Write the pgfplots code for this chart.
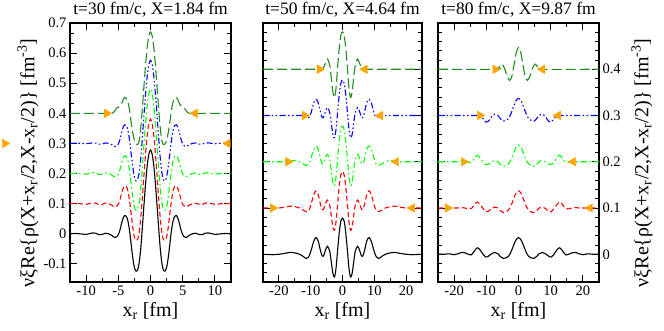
\documentclass[border=0pt]{standalone}
\usepackage{fontspec}
\setmainfont{Liberation Serif}
\usepackage{pgfplots}
\usepackage{pgfplotstable}
\pgfplotsset{compat=1.18}

\definecolor{dgreen}{RGB}{34,139,34}
\definecolor{lgreen}{RGB}{0,255,0}
\definecolor{morange}{RGB}{255,165,0}

% t=30 fm/c : x, then curves shifted by 0, 0.1, 0.2, 0.3, 0.4
\pgfplotstableread{
x k0 k1 k2 k3 k4
-12.5 0 0.1 0.2 0.3 0.4
-11.5 0.001 0.101 0.201 0.301 0.4
-10.5 -0.001 0.099 0.199 0.3 0.4
-10 -0.002 0.098 0.198 0.299 0.4
-9 0.003 0.103 0.203 0.302 0.4
-8.5 0.002 0.102 0.202 0.301 0.4
-8 -0.003 0.097 0.197 0.298 0.4
-7.5 -0.002 0.098 0.198 0.298 0.4
-7 0.002 0.102 0.202 0.302 0.4
-6.5 0 0.1 0.2 0.3 0.4
-6 -0.005 0.095 0.195 0.296 0.4
-5.75 -0.01 0.091 0.191 0.292 0.403
-5.5 -0.012 0.09 0.19 0.29 0.41
-5.25 -0.01 0.092 0.192 0.292 0.418
-5 -0.003 0.098 0.198 0.298 0.42
-4.75 0.012 0.112 0.212 0.313 0.425
-4.5 0.034 0.134 0.234 0.335 0.432
-4.25 0.052 0.151 0.252 0.354 0.445
-4 0.061 0.159 0.259 0.362 0.453
-3.75 0.058 0.157 0.257 0.359 0.45
-3.5 0.042 0.142 0.242 0.343 0.438
-3.25 0.01 0.11 0.21 0.31 0.41
-3 -0.035 0.066 0.166 0.266 0.37
-2.75 -0.08 0.021 0.121 0.222 0.335
-2.5 -0.112 -0.011 0.089 0.189 0.31
-2.25 -0.124 -0.022 0.078 0.176 0.298
-2 -0.12 -0.019 0.081 0.18 0.296
-1.75 -0.095 0.005 0.105 0.205 0.31
-1.5 -0.045 0.055 0.155 0.255 0.355
-1.25 0.025 0.125 0.225 0.324 0.42
-1 0.1 0.2 0.3 0.398 0.495
-0.75 0.17 0.27 0.37 0.468 0.565
-0.5 0.228 0.329 0.429 0.526 0.622
-0.25 0.265 0.367 0.467 0.563 0.658
0 0.278 0.381 0.481 0.576 0.67
0.25 0.265 0.367 0.467 0.563 0.658
0.5 0.228 0.329 0.429 0.526 0.622
0.75 0.17 0.27 0.37 0.468 0.565
1 0.1 0.2 0.3 0.398 0.495
1.25 0.025 0.125 0.225 0.324 0.42
1.5 -0.045 0.055 0.155 0.255 0.355
1.75 -0.095 0.005 0.105 0.205 0.31
2 -0.12 -0.019 0.081 0.18 0.296
2.25 -0.124 -0.022 0.078 0.176 0.298
2.5 -0.112 -0.011 0.089 0.189 0.31
2.75 -0.08 0.021 0.121 0.222 0.335
3 -0.035 0.066 0.166 0.266 0.37
3.25 0.01 0.11 0.21 0.31 0.41
3.5 0.042 0.142 0.242 0.343 0.438
3.75 0.058 0.157 0.257 0.359 0.45
4 0.061 0.159 0.259 0.362 0.453
4.25 0.052 0.151 0.252 0.354 0.445
4.5 0.034 0.134 0.234 0.335 0.432
4.75 0.012 0.112 0.212 0.313 0.425
5 -0.003 0.098 0.198 0.298 0.42
5.25 -0.01 0.092 0.192 0.292 0.418
5.5 -0.012 0.09 0.19 0.29 0.41
5.75 -0.01 0.091 0.191 0.292 0.403
6 -0.005 0.095 0.195 0.296 0.4
6.5 0 0.1 0.2 0.3 0.4
7 0.002 0.102 0.202 0.302 0.4
7.5 -0.002 0.098 0.198 0.298 0.4
8 -0.003 0.097 0.197 0.298 0.4
8.5 0.002 0.102 0.202 0.301 0.4
9 0.003 0.103 0.203 0.302 0.4
10 -0.002 0.098 0.198 0.299 0.4
10.5 -0.001 0.099 0.199 0.3 0.4
11.5 0.001 0.101 0.201 0.301 0.4
12.5 0 0.1 0.2 0.3 0.4
}\tthirty

% t=50 fm/c
\pgfplotstableread{
x k0 k1 k2 k3 k4
-25 0 0.1 0.2 0.3 0.4
-22 -0.001 0.1 0.2 0.3 0.4
-20 0 0.1 0.2 0.3 0.4
-18 0.002 0.102 0.2 0.3 0.4
-16.5 0.004 0.104 0.201 0.3 0.4
-15 0.003 0.103 0.203 0.3 0.4
-13.5 0 0.1 0.2 0.3 0.4
-12.3 -0.005 0.095 0.195 0.3 0.4
-11.4 -0.009 0.092 0.192 0.299 0.4
-10.5 -0.004 0.096 0.196 0.296 0.4
-9.8 0.01 0.11 0.21 0.308 0.4
-9.1 0.027 0.128 0.226 0.327 0.4
-8.4 0.036 0.137 0.234 0.335 0.4
-7.7 0.03 0.13 0.228 0.329 0.4
-7 0.01 0.11 0.209 0.31 0.4
-6.5 -0.002 0.098 0.197 0.297 0.4
-6 -0.004 0.097 0.196 0.296 0.403
-5.3 0.01 0.11 0.209 0.31 0.414
-4.7 0.017 0.117 0.216 0.317 0.422
-4 0.006 0.106 0.205 0.306 0.408
-3.5 -0.018 0.082 0.18 0.282 0.38
-3 -0.042 0.058 0.155 0.258 0.35
-2.5 -0.049 0.052 0.148 0.252 0.339
-2 -0.028 0.072 0.17 0.272 0.362
-1.5 0.012 0.112 0.21 0.311 0.408
-1 0.048 0.148 0.246 0.347 0.447
-0.5 0.072 0.172 0.27 0.37 0.474
0 0.078 0.179 0.277 0.377 0.481
0.5 0.072 0.172 0.27 0.37 0.474
1 0.048 0.148 0.246 0.347 0.447
1.5 0.012 0.112 0.21 0.311 0.408
2 -0.028 0.072 0.17 0.272 0.362
2.5 -0.049 0.052 0.148 0.252 0.339
3 -0.042 0.058 0.155 0.258 0.35
3.5 -0.018 0.082 0.18 0.282 0.38
4 0.006 0.106 0.205 0.306 0.408
4.7 0.017 0.117 0.216 0.317 0.422
5.3 0.01 0.11 0.209 0.31 0.414
6 -0.004 0.097 0.196 0.296 0.403
6.5 -0.002 0.098 0.197 0.297 0.4
7 0.01 0.11 0.209 0.31 0.4
7.7 0.03 0.13 0.228 0.329 0.4
8.4 0.036 0.137 0.234 0.335 0.4
9.1 0.027 0.128 0.226 0.327 0.4
9.8 0.01 0.11 0.21 0.308 0.4
10.5 -0.004 0.096 0.196 0.296 0.4
11.4 -0.009 0.092 0.192 0.299 0.4
12.3 -0.005 0.095 0.195 0.3 0.4
13.5 0 0.1 0.2 0.3 0.4
15 0.003 0.103 0.203 0.3 0.4
16.5 0.004 0.104 0.201 0.3 0.4
18 0.002 0.102 0.2 0.3 0.4
20 0 0.1 0.2 0.3 0.4
22 -0.001 0.1 0.2 0.3 0.4
25 0 0.1 0.2 0.3 0.4
}\tfifty

% t=80 fm/c (top curve kept apart below)
\pgfplotstableread{
x k0 k1 k2 k3
-25 0 0.1 0.2 0.3
-23 0 0.1 0.2 0.3
-21.5 0.001 0.1 0.2 0.3
-20 -0.001 0.1 0.2 0.3
-18.8 0.001 0.1 0.2 0.3
-17.7 0.004 0.101 0.2 0.3
-16.6 0.003 0.1 0.2 0.3
-15.6 0 0.098 0.198 0.3
-14.6 -0.001 0.099 0.199 0.3
-13.6 0.008 0.108 0.208 0.3
-12.8 0.014 0.113 0.214 0.3
-12 0.01 0.108 0.209 0.3
-11.1 0.001 0.1 0.2 0.294
-10.2 -0.006 0.092 0.194 0.286
-9.3 -0.004 0.093 0.195 0.288
-8.4 0.001 0.099 0.199 0.297
-7.4 0.004 0.102 0.203 0.303
-6.4 0.001 0.1 0.2 0.3
-5.6 -0.005 0.094 0.194 0.293
-4.8 -0.009 0.09 0.19 0.288
-4 -0.008 0.091 0.191 0.289
-3.2 -0.005 0.095 0.195 0.293
-2.4 0.004 0.104 0.204 0.303
-1.6 0.018 0.118 0.218 0.318
-0.8 0.031 0.132 0.231 0.332
0 0.036 0.137 0.236 0.337
0.8 0.031 0.132 0.231 0.332
1.6 0.018 0.118 0.218 0.318
2.4 0.004 0.104 0.204 0.303
3.2 -0.005 0.095 0.195 0.293
4 -0.008 0.091 0.191 0.289
4.8 -0.009 0.09 0.19 0.288
5.6 -0.005 0.094 0.194 0.293
6.4 0.001 0.1 0.2 0.3
7.4 0.004 0.102 0.203 0.303
8.4 0.001 0.099 0.199 0.297
9.3 -0.004 0.093 0.195 0.288
10.2 -0.006 0.092 0.194 0.286
11.1 0.001 0.1 0.2 0.294
12 0.01 0.108 0.209 0.3
12.8 0.014 0.113 0.214 0.3
13.6 0.008 0.108 0.208 0.3
14.6 -0.001 0.099 0.199 0.3
15.6 0 0.098 0.198 0.3
16.6 0.003 0.1 0.2 0.3
17.7 0.004 0.101 0.2 0.3
18.8 0.001 0.1 0.2 0.3
20 -0.001 0.1 0.2 0.3
21.5 0.001 0.1 0.2 0.3
23 0 0.1 0.2 0.3
25 0 0.1 0.2 0.3
}\teighty

\pgfplotstableread{
x y
-25 0.4
-7 0.4
-6.2 0.403
-5.2 0.411
-4.4 0.403
-3.6 0.386
-2.8 0.376
-2.1 0.384
-1.4 0.409
-0.7 0.436
0 0.447
0.7 0.436
1.4 0.409
2.1 0.384
2.8 0.376
3.6 0.386
4.4 0.403
5.2 0.411
6.2 0.403
7 0.4
25 0.4
}\teightytop

\pgfplotsset{
  panel/.style={
    scale only axis, height=259pt, anchor=south west,
    axis line style={line width=1.1pt},
    tick align=inside,
    major tick length=7pt, minor tick length=4pt,
    every tick/.style={black, line width=0.9pt},
    tick label style={font=\fontsize{14.5}{16}\selectfont},
    /pgf/number format/assume math mode=true,
    title style={font=\fontsize{17.5}{20}\selectfont, at={(0.5,1)}, anchor=base, yshift=3pt},
    label style={font=\fontsize{20}{24}\selectfont},
    xlabel={x\textsubscript{r} [fm]},
    clip=false,
  },
  wide/.style={
    xmin=-25, xmax=25, ymin=-0.06, ymax=0.5,
    xtick={-20,-10,0,10,20}, minor x tick num=1,
    ytick={0,0.1,0.2,0.3,0.4},
    minor ytick={-0.06,-0.04,-0.02,0.02,0.04,0.06,0.08,0.12,0.14,0.16,0.18,0.22,0.24,0.26,0.28,0.32,0.34,0.36,0.38,0.42,0.44,0.46,0.48},
  },
  c0/.style={black, line width=1.1pt, smooth},
  c1/.style={red, line width=1.1pt, smooth, dash pattern=on 5pt off 3pt},
  c2/.style={lgreen, line width=1.1pt, smooth, dash pattern=on 6pt off 3pt on 1.5pt off 3pt},
  c3/.style={blue, line width=1.1pt, smooth, dash pattern=on 6pt off 2.5pt on 1.5pt off 2.5pt on 1.5pt off 2.5pt},
  c4/.style={dgreen, line width=1.1pt, smooth, dash pattern=on 10pt off 4pt},
  toright/.style={only marks, mark=triangle*, mark size=5pt, color=morange, mark options={rotate=-90}},
  toleft/.style={only marks, mark=triangle*, mark size=5pt, color=morange, mark options={rotate=90}},
}

\newcommand{\ylab}{νξRe\{ρ(X+x\textsubscript{r}/2,X-x\textsubscript{r}/2)\} [fm\textsuperscript{-3}]}

\begin{document}
\begin{tikzpicture}
\path[use as bounding box] (-70pt,-48pt) rectangle (594pt,282pt);

\begin{axis}[panel, at={(0pt,0pt)}, width=161pt,
  xmin=-12.5, xmax=12.5, ymin=-0.16, ymax=0.7,
  xtick={-10,-5,0,5,10}, minor x tick num=1,
  ytick={-0.1,0,0.1,0.2,0.3,0.4,0.5,0.6,0.7}, minor y tick num=2,
  title={t=30 fm/c, X=1.84 fm},
  ylabel={\ylab},
  ylabel style={at={(axis description cs:0,0.46)}, anchor=center, yshift=42pt},
]
\addplot[c0] table[y=k0] {\tthirty};
\addplot[c1] table[y=k1] {\tthirty};
\addplot[c2] table[y=k2] {\tthirty};
\addplot[c3] table[y=k3] {\tthirty};
\addplot[c4] table[y=k4] {\tthirty};
\addplot[toright] coordinates {(-6.8,0.4) (-22.6,0.3)};
\addplot[toleft] coordinates {(6.9,0.4) (12,0.3)};
\end{axis}

\begin{axis}[panel, wide, at={(193pt,0pt)}, width=159pt,
  yticklabels={},
  title={t=50 fm/c, X=4.64 fm},
]
\addplot[c0] table[y=k0] {\tfifty};
\addplot[c1] table[y=k1] {\tfifty};
\addplot[c2] table[y=k2] {\tfifty};
\addplot[c3] table[y=k3] {\tfifty};
\addplot[c4] table[y=k4] {\tfifty};
\addplot[toright] coordinates {(-7.2,0.4) (-11.9,0.3) (-17.1,0.2) (-21.9,0.1)};
\addplot[toleft] coordinates {(7.0,0.4) (11.9,0.3) (16.9,0.2) (21.9,0.1)};
\end{axis}

\begin{axis}[panel, wide, at={(368pt,0pt)}, width=161pt,
  yticklabel pos=right,
  title={t=80 fm/c, X=9.87 fm},
  ylabel={\ylab},
  ylabel style={at={(axis description cs:1,0.46)}, anchor=center, yshift=-43pt},
]
\addplot[c0] table[y=k0] {\teighty};
\addplot[c1] table[y=k1] {\teighty};
\addplot[c2] table[y=k2] {\teighty};
\addplot[c3] table[y=k3] {\teighty};
\addplot[c4] table[y=y] {\teightytop};
\addplot[toright] coordinates {(-7.2,0.4) (-12,0.3) (-17,0.2) (-22,0.1)};
\addplot[toleft] coordinates {(7.4,0.4) (12.3,0.3) (17,0.2) (22.2,0.1)};
\end{axis}
\end{tikzpicture}
\end{document}
